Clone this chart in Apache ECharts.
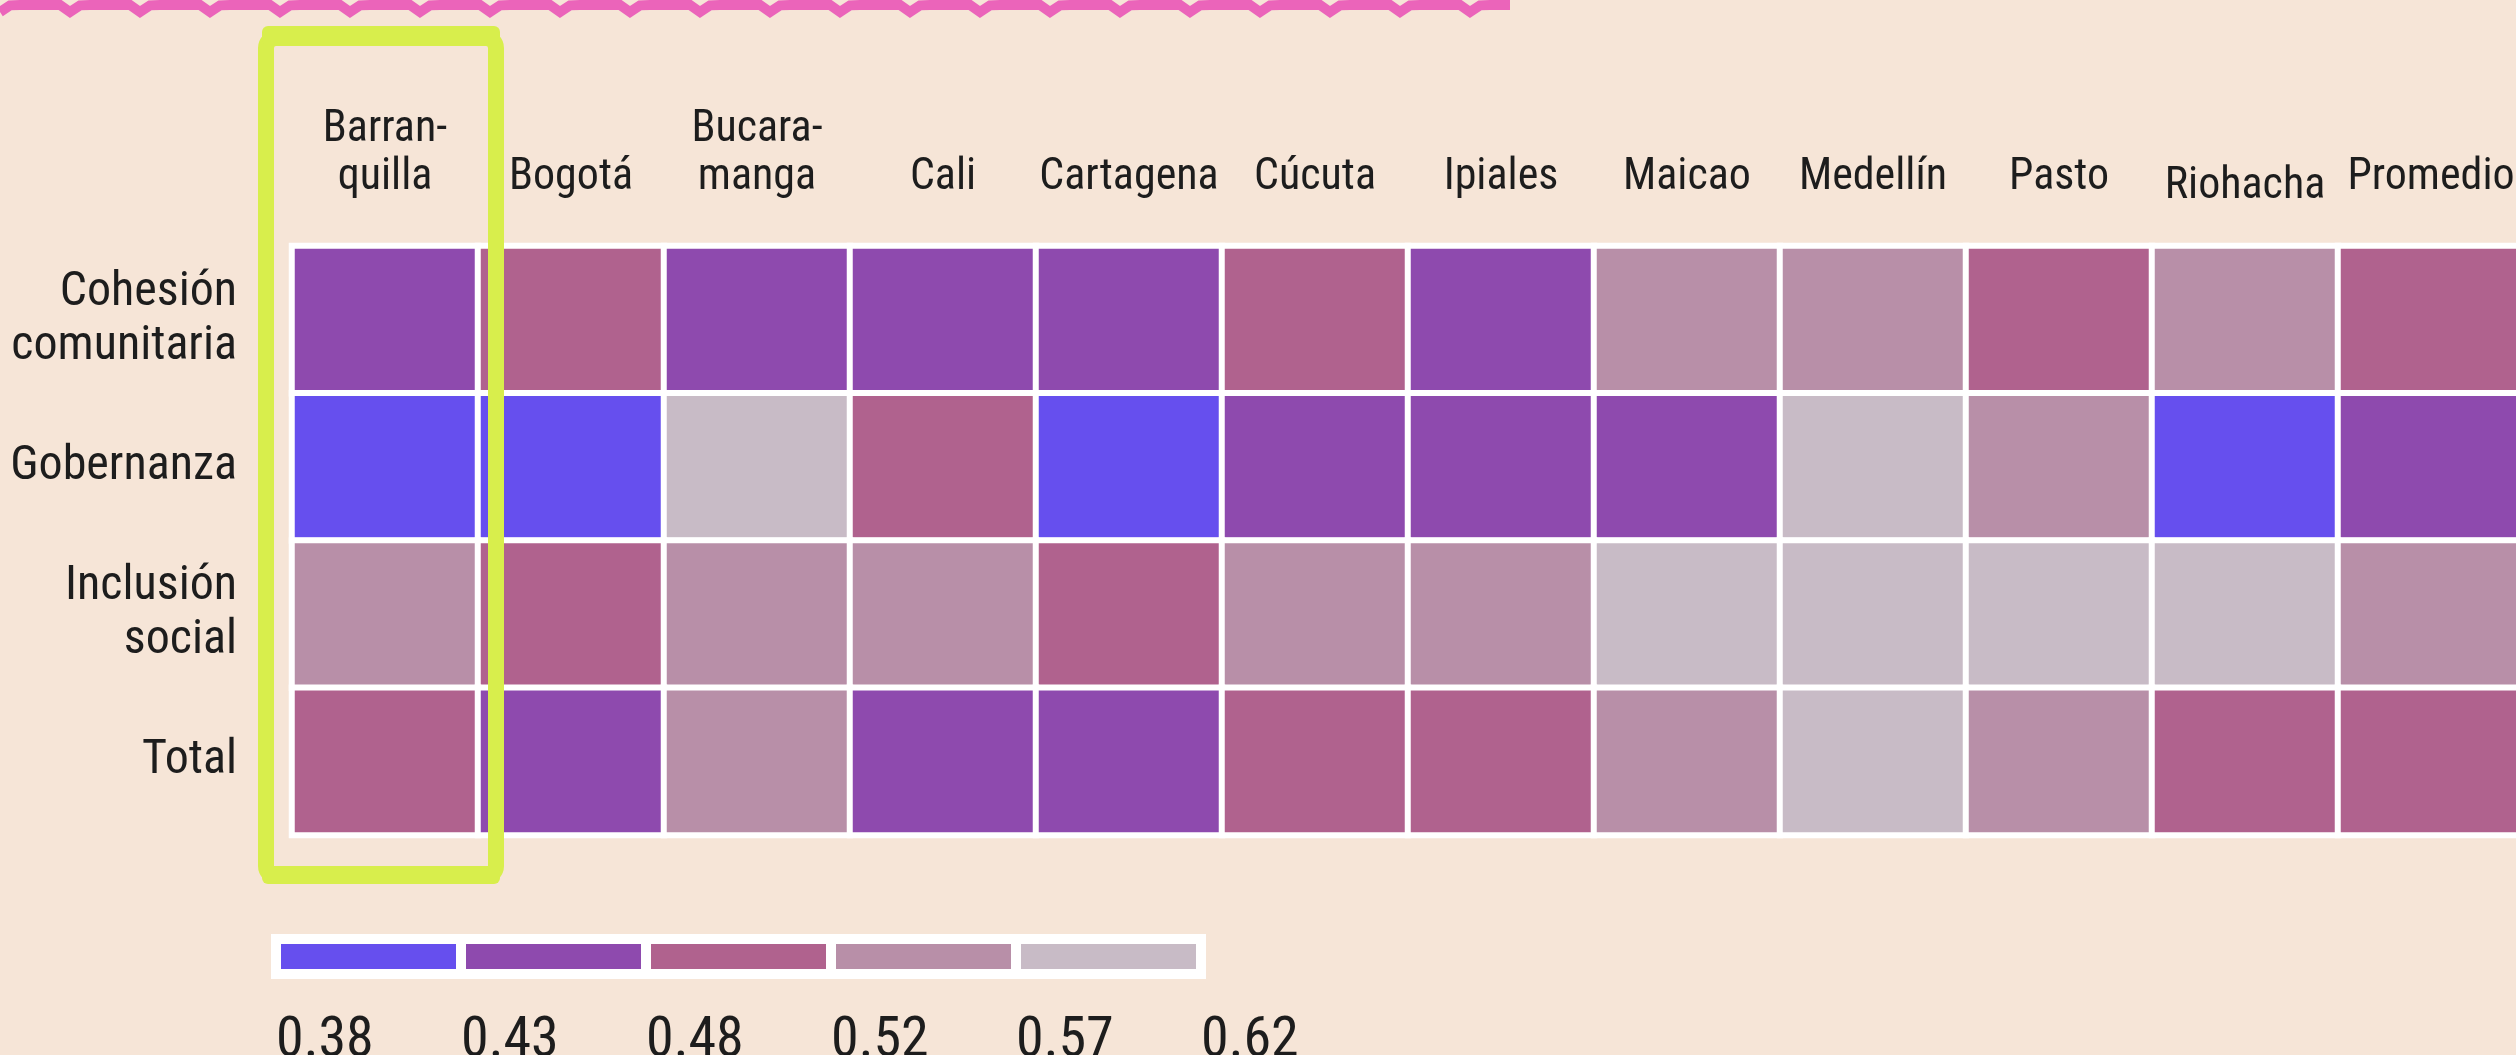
<!DOCTYPE html>
<html>
<head>
<meta charset="utf-8">
<script src="https://cdn.jsdelivr.net/npm/echarts@6/dist/echarts.min.js"></script>
<style>
html,body{margin:0;padding:0;background:#F6E5D7;}
#chart{width:2516px;height:1055px;}
</style>
</head>
<body>
<div id="chart"></div>
<script>
// ---- data ----
const cities = ['Barran-\nquilla','Bogotá','Bucara-\nmanga','Cali','Cartagena','Cúcuta','Ipiales','Maicao','Medellín','Pasto','Riohacha','Promedio'];
const dimensions = ['Cohesión\ncomunitaria','Gobernanza','Inclusión\nsocial','Total'];
const cohesion   = [0.45,0.50,0.46,0.45,0.44,0.49,0.46,0.54,0.55,0.50,0.55,0.49];
const gobernanza = [0.40,0.38,0.60,0.50,0.41,0.45,0.46,0.44,0.59,0.54,0.39,0.47];
const inclusion  = [0.55,0.51,0.54,0.56,0.50,0.55,0.54,0.62,0.60,0.59,0.58,0.55];
const total      = [0.50,0.47,0.53,0.47,0.46,0.50,0.51,0.54,0.58,0.54,0.49,0.50];
const binEdges = [0.38,0.428,0.476,0.524,0.572,0.62];
const legendTicks = ['0.38','0.43','0.48','0.52','0.57','0.62'];
const binColors = ['#664FEE','#8E4AAE','#B0628E','#B88FA8','#C8BBC6'];

// ---- build ----
const rows = [cohesion, gobernanza, inclusion, total];
const heatData = [];
rows.forEach((r, yi) => r.forEach((v, xi) => heatData.push([xi, yi, v])));
const pieces = binColors.map((c, i) => {
  const p = {gte: binEdges[i], color: c};
  if (i === binColors.length - 1) p.lte = binEdges[i + 1]; else p.lt = binEdges[i + 1];
  return p;
});
const legendData = binColors.map((c, i) => [i, i + 1]);

const FONT = "'Roboto Condensed',Roboto,sans-serif";
const TXT = '#1d1d1d';

// scalloped pink stroke along the top (decoration)
const scallop = [];
for (let x = 0; x <= 1510; x += 10) {
  const ph = (x % 70) / 70;
  scallop.push([x, 5 + (ph < 0.15 ? 7 * (1 - ph / 0.15) : 0)]);
}

const chart = echarts.init(document.getElementById('chart'));
chart.setOption({
  backgroundColor: '#F6E5D7',
  animation: false,
  grid: [
    {left: 292, top: 246, width: 2232, height: 589, outerBoundsMode: 'none'},
    {left: 276, top: 939, width: 925, height: 35, outerBoundsMode: 'none'}
  ],
  xAxis: [
    {type: 'category', data: cities, position: 'top', gridIndex: 0,
     axisLine: {show: false}, axisTick: {show: false}, splitArea: {show: false},
     axisLabel: {interval: 0, fontFamily: FONT, fontSize: 44, lineHeight: 48, color: TXT,
                 margin: 44, verticalAlign: 'bottom',
                 formatter: v => v === 'Riohacha' ? '{low|' + v + '}' : v,
                 rich: {low: {fontFamily: FONT, fontSize: 44, lineHeight: 30, color: TXT}}}},
    {type: 'value', gridIndex: 1, min: 0, max: 5, interval: 1,
     axisLine: {show: false}, axisTick: {show: false}, splitLine: {show: false},
     axisLabel: {fontFamily: FONT, fontSize: 56, color: TXT, align: 'left', margin: 40,
                 verticalAlign: 'top', formatter: v => legendTicks[v]}}
  ],
  yAxis: [
    {type: 'category', data: dimensions, inverse: true, gridIndex: 0,
     axisLine: {show: false}, axisTick: {show: false},
     axisLabel: {interval: 0, fontFamily: FONT, fontSize: 48, lineHeight: 54, color: TXT,
                 margin: 55, align: 'right'}},
    {type: 'value', gridIndex: 1, min: 0, max: 1, show: false}
  ],
  visualMap: {type: 'piecewise', show: false, dimension: 2, seriesIndex: 0, pieces: pieces},
  series: [
    {type: 'heatmap', xAxisIndex: 0, yAxisIndex: 0, data: heatData,
     itemStyle: {borderColor: '#ffffff', borderWidth: 6},
     emphasis: {disabled: true}},
    {type: 'custom', xAxisIndex: 1, yAxisIndex: 1, data: legendData, silent: true,
     renderItem: function (params, api) {
       const i = api.value(0), j = api.value(1);
       const p0 = api.coord([i, 1]);
       const p1 = api.coord([j, 0]);
       return {type: 'rect',
               shape: {x: p0[0], y: p0[1], width: p1[0] - p0[0], height: p1[1] - p0[1]},
               style: {fill: binColors[params.dataIndex], stroke: '#ffffff', lineWidth: 10}};
     }}
  ],
  graphic: [
    {type: 'rect', z: 100, silent: true,
     shape: {x: 266, y: 38, width: 230, height: 838, r: 10},
     style: {fill: 'none', stroke: '#D8EE4C', lineWidth: 16}},
    {type: 'rect', z: 100, silent: true,
     shape: {x: 262, y: 26, width: 238, height: 20, r: 6},
     style: {fill: '#D8EE4C'}},
    {type: 'rect', z: 100, silent: true,
     shape: {x: 262, y: 866, width: 238, height: 18, r: 6},
     style: {fill: '#D8EE4C'}},
    {type: 'polyline', z: 100, silent: true,
     shape: {points: scallop},
     style: {stroke: '#EB64BA', lineWidth: 10, fill: 'none'}}
  ]
});
</script>
</body>
</html>
